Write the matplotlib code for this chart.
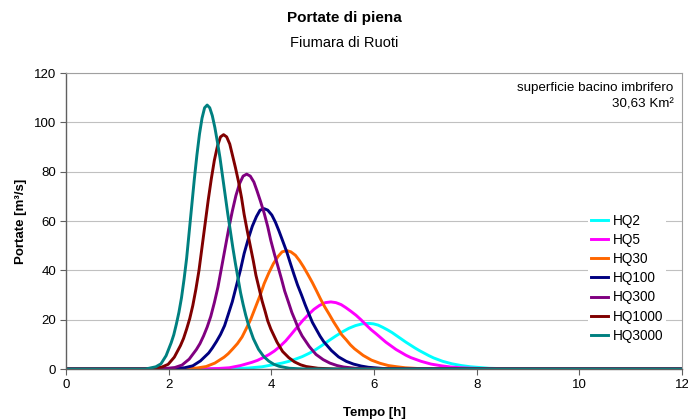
import matplotlib
matplotlib.use("Agg")
import matplotlib.pyplot as plt

plt.rcParams["font.family"] = ["Liberation Sans", "DejaVu Sans"]

# hydrographs (time [h], discharge [m3/s])
t_hq2 = [0, 2.78, 3.30, 3.56, 3.82, 4.08, 4.21, 4.34, 4.47, 4.60, 4.73, 4.86,
         4.99, 5.12, 5.25, 5.38, 5.51, 5.64, 5.77, 5.90, 5.99, 6.08, 6.17,
         6.26, 6.35, 6.44, 6.53, 6.62, 6.71, 6.80, 6.89, 6.98, 7.07, 7.16,
         7.25, 7.34, 7.52, 7.70, 7.88, 8.06, 8.24, 8.42, 8.78, 9.32, 12]
q_hq2 = [0, 0, 0.15, 0.4, 0.9, 1.9, 2.4, 3.1, 4.0, 5.0, 6.3, 7.8,
         9.6, 11.5, 13.3, 15.0, 16.5, 17.6, 18.3, 18.5, 18.3, 17.8, 16.9,
         15.9, 14.8, 13.5, 12.2, 10.9, 9.7, 8.5, 7.4, 6.4, 5.4, 4.5,
         3.8, 3.1, 2.1, 1.4, 0.9, 0.6, 0.3, 0.2, 0.06, 0, 0]

t_hq5 = [0, 2.52, 2.96, 3.18, 3.40, 3.62, 3.73, 3.84, 3.95, 4.06, 4.17, 4.28,
         4.39, 4.50, 4.61, 4.72, 4.83, 4.94, 5.05, 5.16, 5.26, 5.36, 5.45,
         5.55, 5.65, 5.75, 5.84, 5.94, 6.04, 6.14, 6.23, 6.33, 6.43, 6.53,
         6.62, 6.72, 6.92, 7.11, 7.31, 7.50, 7.70, 7.89, 8.28, 8.87, 12]
q_hq5 = [0, 0, 0.2, 0.5, 1.4, 2.7, 3.5, 4.6, 5.8, 7.3, 9.2, 11.4,
         14.1, 16.9, 19.6, 22.0, 24.2, 25.8, 26.9, 27.2, 26.9, 26.1, 24.9,
         23.4, 21.8, 19.9, 18.0, 16.0, 14.3, 12.5, 10.9, 9.4, 7.9, 6.7,
         5.6, 4.6, 3.1, 2.0, 1.3, 0.8, 0.5, 0.3, 0.1, 0, 0]

t_hq30 = [0, 2.20, 2.55, 2.73, 2.90, 3.08, 3.16, 3.25, 3.34, 3.43, 3.51, 3.60,
          3.69, 3.78, 3.86, 3.95, 4.04, 4.13, 4.21, 4.30, 4.38, 4.47, 4.55,
          4.63, 4.71, 4.80, 4.88, 4.96, 5.04, 5.13, 5.21, 5.29, 5.37, 5.46,
          5.54, 5.62, 5.79, 5.95, 6.12, 6.28, 6.45, 6.61, 6.94, 7.44, 12]
q_hq30 = [0, 0, 0.4, 1.0, 2.4, 4.8, 6.2, 8.2, 10.3, 13.0, 16.3, 20.2,
          25.0, 29.8, 34.6, 38.9, 42.7, 45.6, 47.5, 48.0, 47.5, 46.1, 43.9,
          41.3, 38.4, 35.0, 31.7, 28.3, 25.2, 22.1, 19.2, 16.6, 13.9, 11.8,
          9.8, 8.2, 5.5, 3.6, 2.3, 1.4, 0.9, 0.5, 0.1, 0, 0]

t_hq100 = [0, 2.00, 2.31, 2.47, 2.62, 2.78, 2.85, 2.93, 3.01, 3.09, 3.16, 3.24,
           3.32, 3.40, 3.47, 3.55, 3.63, 3.71, 3.78, 3.86, 3.93, 4.01, 4.08,
           4.15, 4.22, 4.30, 4.37, 4.44, 4.51, 4.59, 4.66, 4.73, 4.80, 4.88,
           4.95, 5.02, 5.17, 5.31, 5.46, 5.60, 5.75, 5.89, 6.18, 6.62, 12]
q_hq100 = [0, 0, 0.5, 1.3, 3.3, 6.5, 8.5, 11.1, 14.0, 17.6, 22.1, 27.3,
           33.8, 40.3, 46.8, 52.7, 57.9, 61.8, 64.4, 65.0, 64.4, 62.4, 59.5,
           55.9, 52.0, 47.5, 42.9, 38.4, 34.1, 29.9, 26.0, 22.4, 18.9, 15.9,
           13.3, 11.1, 7.5, 4.9, 3.1, 2.0, 1.2, 0.7, 0.2, 0, 0]

t_hq300 = [0, 1.84, 2.12, 2.26, 2.40, 2.54, 2.61, 2.68, 2.75, 2.82, 2.89, 2.96,
           3.03, 3.10, 3.17, 3.24, 3.31, 3.38, 3.45, 3.52, 3.59, 3.66, 3.72,
           3.79, 3.86, 3.93, 3.99, 4.06, 4.13, 4.20, 4.26, 4.33, 4.40, 4.47,
           4.53, 4.60, 4.74, 4.87, 5.01, 5.14, 5.28, 5.41, 5.68, 6.09, 12]
q_hq300 = [0, 0, 0.6, 1.6, 4.0, 7.9, 10.3, 13.4, 17.0, 21.3, 26.9, 33.2,
           41.1, 49.0, 56.9, 64.0, 70.3, 75.1, 78.2, 79.0, 78.2, 75.8, 72.3,
           67.9, 63.2, 57.7, 52.1, 46.6, 41.5, 36.3, 31.6, 27.3, 22.9, 19.4,
           16.2, 13.4, 9.1, 5.9, 3.8, 2.4, 1.4, 0.8, 0.2, 0, 0]

t_hq1000 = [0, 1.63, 1.87, 1.99, 2.11, 2.23, 2.29, 2.35, 2.41, 2.47, 2.53, 2.59,
            2.65, 2.71, 2.77, 2.83, 2.89, 2.95, 3.01, 3.07, 3.13, 3.19, 3.24,
            3.30, 3.36, 3.42, 3.47, 3.53, 3.59, 3.65, 3.70, 3.76, 3.82, 3.88,
            3.93, 3.99, 4.11, 4.22, 4.34, 4.45, 4.57, 4.68, 4.91, 5.26, 12]
q_hq1000 = [0, 0, 0.8, 1.9, 4.8, 9.5, 12.4, 16.2, 20.4, 25.7, 32.3, 39.9,
            49.4, 58.9, 68.4, 77.0, 84.6, 90.3, 94.1, 95.0, 94.1, 91.2, 86.9,
            81.7, 76.0, 69.4, 62.7, 56.1, 49.9, 43.7, 38.0, 32.8, 27.6, 23.3,
            19.5, 16.2, 10.9, 7.1, 4.6, 2.9, 1.7, 1.0, 0.3, 0, 0]

t_hq3000 = [0, 1.55, 1.75, 1.85, 1.95, 2.05, 2.10, 2.15, 2.20, 2.25, 2.30, 2.35,
            2.40, 2.45, 2.50, 2.55, 2.60, 2.65, 2.70, 2.75, 2.80, 2.85, 2.90,
            2.95, 3.00, 3.05, 3.10, 3.15, 3.20, 3.25, 3.30, 3.35, 3.40, 3.45,
            3.50, 3.55, 3.65, 3.75, 3.85, 3.95, 4.05, 4.15, 4.35, 4.65, 12]
q_hq3000 = [0, 0, 0.9, 2.1, 5.4, 10.7, 13.9, 18.2, 23.0, 28.9, 36.4, 44.9,
            55.6, 66.3, 77.0, 86.7, 95.2, 101.7, 105.9, 107.0, 105.9, 102.7, 97.9,
            92.0, 85.6, 78.1, 70.6, 63.1, 56.2, 49.2, 42.8, 36.9, 31.0, 26.2,
            21.9, 18.2, 12.3, 8.0, 5.1, 3.2, 1.9, 1.1, 0.3, 0, 0]

series = [
    ("HQ2", t_hq2, q_hq2, "#00FFFF"),
    ("HQ5", t_hq5, q_hq5, "#FF00FF"),
    ("HQ30", t_hq30, q_hq30, "#FF6600"),
    ("HQ100", t_hq100, q_hq100, "#000080"),
    ("HQ300", t_hq300, q_hq300, "#800080"),
    ("HQ1000", t_hq1000, q_hq1000, "#800000"),
    ("HQ3000", t_hq3000, q_hq3000, "#008080"),
]

fig = plt.figure(figsize=(6.88, 4.2), dpi=100)
ax = fig.add_axes([66 / 688, 1 - 369 / 420, 616 / 688, 296 / 420])

for name, t, q, c in series:
    ax.plot(t, q, color=c, lw=2.1, label=name, solid_joinstyle="round")

ax.set_xlim(0, 12)
ax.set_ylim(0, 120)
ax.set_xticks(range(0, 13, 2))
ax.set_yticks(range(0, 121, 20))
ax.tick_params(labelsize=9.5, length=4, color="#606060", pad=3)
ax.grid(axis="y", color="#c0c0c0", lw=0.8)
ax.set_axisbelow(True)

for side in ["left", "bottom"]:
    ax.spines[side].set_color("#606060")
    ax.spines[side].set_linewidth(1.0)
for side in ["top", "right"]:
    ax.spines[side].set_color("#a0a0a0")
    ax.spines[side].set_linewidth(0.8)

ax.set_xlabel("Tempo [h]", fontsize=9.5, fontweight="bold", labelpad=12)
ax.set_ylabel("Portate [m³/s]", fontsize=9.5, fontweight="bold", labelpad=5)

fig.text(0.5, 1 - 18 / 420, "Portate di piena", ha="center", va="center",
         fontsize=11, fontweight="bold")
fig.text(0.5, 1 - 43 / 420, "Fiumara di Ruoti", ha="center", va="center",
         fontsize=10.5)

ax.text(0.986, 0.968, "superficie bacino imbrifero\n30,63 Km²",
        transform=ax.transAxes, ha="right", va="top", fontsize=9.6,
        linespacing=1.45)

leg = ax.legend(loc="upper left", bbox_to_anchor=(588 / 688, 1 - 211 / 420),
                bbox_transform=fig.transFigure, fontsize=9.8, frameon=True,
                fancybox=False, framealpha=1, edgecolor="none",
                handlelength=1.3, handletextpad=0.3, labelspacing=0.38,
                borderpad=0.2, borderaxespad=0)

fig.savefig("out.png", dpi=100)
